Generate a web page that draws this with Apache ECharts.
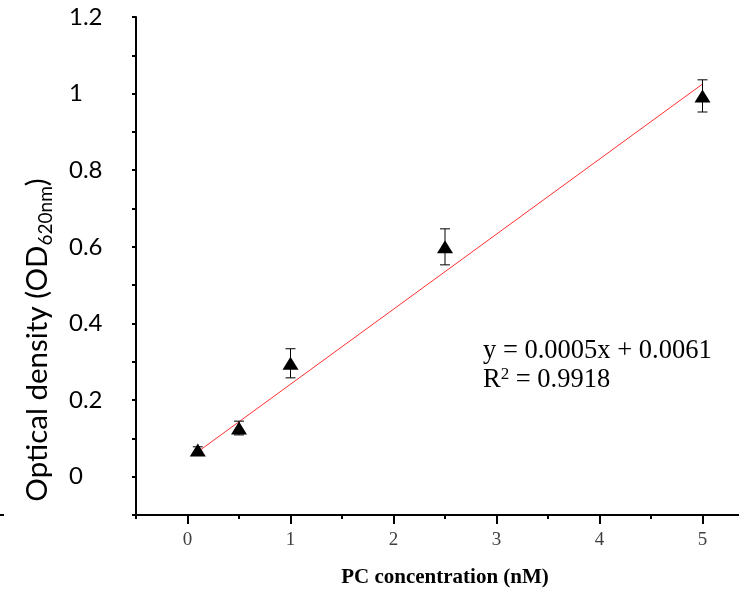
<!DOCTYPE html>
<html>
<head>
<meta charset="utf-8">
<script src="https://cdn.jsdelivr.net/npm/echarts@6/dist/echarts.min.js"></script>
<style>html,body{margin:0;padding:0;background:#fff}#c{width:739px;height:591px}</style>
</head>
<body>
<div id="c"></div>
<script>
// Data
const concentrations = [0.1, 0.5, 1, 2.5, 5];
const opticalDensity = [0.070, 0.127, 0.296, 0.600, 0.994];
const errorHalf = [0.008, 0.018, 0.038, 0.047, 0.042];
const trendX = [0.1, 5];
const trendY = [0.065, 1.025];
const xTickLabels = [0, 1, 2, 3, 4, 5];
const xMinorTicks = [-0.5, 0.5, 1.5, 2.5, 3.5, 4.5, 5.5];
const yTickLabels = [0, 0.2, 0.4, 0.6, 0.8, 1, 1.2];
const yTicks = [-0.1, 0, 0.1, 0.2, 0.3, 0.4, 0.5, 0.6, 0.7, 0.8, 0.9, 1.0, 1.1, 1.2];
const equationLine = 'y = 0.0005x + 0.0061';
const r2Value = '0.9918';

const points = concentrations.map((x, i) => [x, opticalDensity[i]]);
const errData = concentrations.map((x, i) => [x, opticalDensity[i] - errorHalf[i], opticalDensity[i] + errorHalf[i]]);
const trendData = trendX.map((x, i) => [x, trendY[i]]);

const chart = echarts.init(document.getElementById('c'));
chart.setOption({
  animation: false,
  grid: {left: 136, right: -15, top: 17, bottom: 76, containLabel: false, outerBoundsMode: 'none'},
  xAxis: [{
    type: 'value', min: -0.5, max: 5.5, position: 'bottom',
    axisLine: {show: true, onZero: false, lineStyle: {color: '#000', width: 2}},
    axisTick: {show: true, customValues: xTickLabels, length: 9, lineStyle: {color: '#000', width: 2}},
    axisLabel: {customValues: xTickLabels, fontFamily: 'Liberation Serif', fontSize: 19, color: '#404040', margin: 16},
    splitLine: {show: false},
    name: 'PC concentration (nM)', nameLocation: 'middle', nameGap: 52,
    nameTextStyle: {fontFamily: 'Liberation Serif', fontWeight: 'bold', fontSize: 21, color: '#000'}
  }, {
    type: 'value', min: -0.5, max: 5.5, position: 'bottom',
    axisLine: {show: false, onZero: false},
    axisTick: {show: true, customValues: xMinorTicks, length: 4, lineStyle: {color: '#000', width: 2}},
    axisLabel: {show: false},
    splitLine: {show: false}
  }],
  yAxis: {
    type: 'value', min: -0.1, max: 1.2,
    axisLine: {show: true, onZero: false, lineStyle: {color: '#000', width: 2}},
    axisTick: {show: true, customValues: yTicks, length: 4, lineStyle: {color: '#000', width: 2}},
    axisLabel: {
      customValues: yTickLabels, align: 'left', margin: 67, padding: [4, 0, 0, 0],
      fontFamily: 'Lato', fontSize: 24, color: '#000',
      formatter: v => String(Number(v.toFixed(1)))
    },
    splitLine: {show: false}
  },
  graphic: [
    {
      type: 'text', x: 37, y: 340, rotation: Math.PI / 2,
      style: {
        text: 'Optical density (OD{sub|620nm})',
        rich: {sub: {fontFamily: 'Lato', fontSize: 19, verticalAlign: 'bottom', padding: [18, 0, 0, 0], fill: '#000'}},
        fontFamily: 'Lato', fontSize: 29.5, fill: '#000', align: 'center', verticalAlign: 'middle'
      }
    },
    {
      type: 'text', left: 483, top: 337,
      style: {
        text: equationLine + '\nR{sup|2} = ' + r2Value,
        rich: {sup: {fontFamily: 'Liberation Serif', fontSize: 17, verticalAlign: 'top', padding: [0, 0, 10, 0], fill: '#000'}},
        fontFamily: 'Liberation Serif', fontSize: 26.5, lineHeight: 29, fill: '#000'
      }
    },
    {type: 'rect', shape: {x: 0, y: 514, width: 4, height: 2}, style: {fill: '#000'}}
  ],
  series: [
    {
      type: 'line', data: trendData, symbol: 'none',
      lineStyle: {color: '#ff3030', width: 1}, z: 1
    },
    {
      type: 'custom', data: errData, z: 2,
      renderItem: (params, api) => {
        const x = api.value(0);
        const lo = api.coord([x, api.value(1)]);
        const hi = api.coord([x, api.value(2)]);
        const w = 5;
        const st = {stroke: '#000', lineWidth: 1};
        return {type: 'group', children: [
          {type: 'line', shape: {x1: lo[0], y1: lo[1], x2: hi[0], y2: hi[1]}, style: st},
          {type: 'line', shape: {x1: lo[0] - w, y1: lo[1], x2: lo[0] + w, y2: lo[1]}, style: st},
          {type: 'line', shape: {x1: hi[0] - w, y1: hi[1], x2: hi[0] + w, y2: hi[1]}, style: st}
        ]};
      }
    },
    {
      type: 'scatter', data: points, symbol: 'triangle', symbolSize: [16, 13],
      itemStyle: {color: '#000', opacity: 1}, z: 3
    }
  ]
});
</script>
</body>
</html>
